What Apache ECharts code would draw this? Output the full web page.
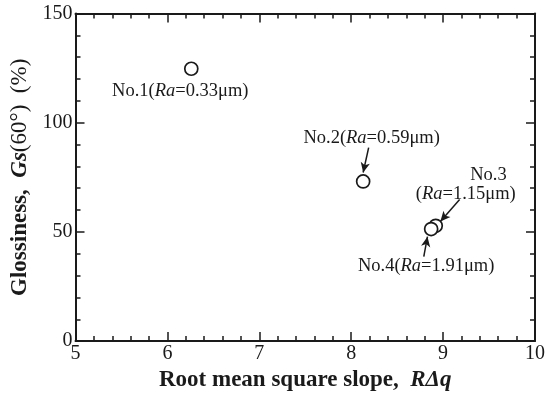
<!DOCTYPE html>
<html><head><meta charset="utf-8">
<script src="https://cdn.jsdelivr.net/npm/echarts@6/dist/echarts.min.js"></script>
<style>html,body{margin:0;padding:0;background:#fff}#c{width:548px;height:397px}</style>
</head><body><div id="c"></div>
<script>
// ---- data ----
const sampleNames = ['No.1', 'No.2', 'No.3', 'No.4'];
const raValues = ['0.33', '0.59', '1.15', '1.91'];
const slopeValues = [6.26, 8.13, 8.92, 8.87];   // R Delta q
const glossValues = [124.7, 73.1, 52.8, 51.3];  // Gs(60deg) %
const xTickValues = [5, 6, 7, 8, 9, 10];
const yTickValues = [0, 50, 100, 150];
// annotation arrows (data units): start -> end
const arrowStarts = [[8.19, 88.6], [9.18, 64.8], [8.79, 38.7]];
const arrowEnds = [[8.13, 77.2], [8.97, 54.8], [8.83, 47.8]];

// ---- layout / style ----
const FONT = "'Liberation Serif','Times New Roman',serif";
const INK = '#1a1a1a';
const labelOffsets = [[-11, 22], [8.5, -43], [80, -41], [-5, 37]];
const labelAligns = ['center', 'center', 'right', 'center'];
const twoLine = [false, false, true, false];

const LFS = 18.5;
const rich = {
  n: { fontFamily: FONT, fontSize: LFS, color: INK, lineHeight: 19.5 },
  i: { fontFamily: FONT, fontSize: LFS, color: INK, fontStyle: 'italic', lineHeight: 19.5 },
  h: { fontFamily: FONT, fontSize: LFS, color: INK, lineHeight: 19.5, padding: [0, 9, 0, 0] }
};

function labelText(k) {
  if (twoLine[k]) return '{h|' + sampleNames[k] + '}\n{n|(}{i|Ra}{n|=' + raValues[k] + 'μm)}';
  return '{n|' + sampleNames[k] + '(}{i|Ra}{n|=' + raValues[k] + 'μm)}';
}

const points = sampleNames.map((nm, k) => ({
  name: nm,
  value: [slopeValues[k], glossValues[k]],
  label: {
    show: true, position: 'inside', offset: labelOffsets[k],
    align: labelAligns[k], verticalAlign: 'middle',
    color: INK, textBorderWidth: 0,
    formatter: labelText(k), rich: rich
  }
}));

const axisLineStyle = { color: INK, width: 2 };
function makeX(pos, showLabel, name) {
  return {
    type: 'value', min: xTickValues[0], max: xTickValues[xTickValues.length - 1], interval: 1,
    position: pos,
    axisLine: { show: true, onZero: false, lineStyle: axisLineStyle },
    axisTick: { show: true, inside: true, length: 9, lineStyle: { color: INK, width: 1.5 } },
    minorTick: { show: true, splitNumber: 5, length: 5, lineStyle: { color: INK, width: 1.5 } },
    splitLine: { show: false },
    axisLabel: { show: showLabel, fontFamily: FONT, fontSize: 20, color: INK, margin: 3 },
    name: name || '', nameLocation: 'middle', nameGap: 25,
    nameTextStyle: {
      rich: {
        b: { fontFamily: FONT, fontSize: 23, fontWeight: 'bold', color: INK },
        bi: { fontFamily: FONT, fontSize: 23, fontWeight: 'bold', fontStyle: 'italic', color: INK }
      }
    }
  };
}
function makeY(pos, showLabel, name) {
  return {
    type: 'value', min: yTickValues[0], max: yTickValues[yTickValues.length - 1], interval: 50,
    position: pos,
    axisLine: { show: true, onZero: false, lineStyle: axisLineStyle },
    axisTick: { show: true, inside: true, length: 9, lineStyle: { color: INK, width: 1.5 } },
    minorTick: { show: true, splitNumber: 5, length: 5, lineStyle: { color: INK, width: 1.5 } },
    splitLine: { show: false },
    axisLabel: { show: showLabel, fontFamily: FONT, fontSize: 20, color: INK, margin: 3 },
    name: name || '', nameLocation: 'middle', nameGap: 44, nameRotate: 90,
    nameTextStyle: {
      rich: {
        b: { fontFamily: FONT, fontSize: 23, fontWeight: 'bold', color: INK },
        bi: { fontFamily: FONT, fontSize: 23, fontWeight: 'bold', fontStyle: 'italic', color: INK },
        r: { fontFamily: FONT, fontSize: 23, color: INK }
      }
    }
  };
}

const chart = echarts.init(document.getElementById('c'), null, { renderer: 'canvas' });
chart.setOption({
  animation: false,
  backgroundColor: '#fff',
  grid: { left: 75.5, right: 11.5, top: 13.5, bottom: 55, containLabel: false },
  xAxis: [
    makeX('bottom', true, '{b|Root mean square slope,  }{bi|RΔq}'),
    makeX('top', false)
  ],
  yAxis: [
    makeY('left', true, '{b|Glossiness,  }{bi|Gs}{r|(60°)  (%)}'),
    makeY('right', false)
  ],
  series: [{
    type: 'scatter', xAxisIndex: 0, yAxisIndex: 0,
    symbol: 'circle', symbolSize: 13,
    itemStyle: { color: '#fff', borderColor: INK, borderWidth: 1.7, opacity: 1 },
    data: points,
    markLine: {
      silent: true, animation: false,
      symbol: ['none', 'arrow'], symbolSize: [7, 10],
      label: { show: false },
      lineStyle: { color: INK, width: 1.5, type: 'solid' },
      emphasis: { disabled: true },
      data: arrowStarts.map((s, k) => [{ coord: s }, { coord: arrowEnds[k] }])
    }
  }]
});
</script></body></html>
